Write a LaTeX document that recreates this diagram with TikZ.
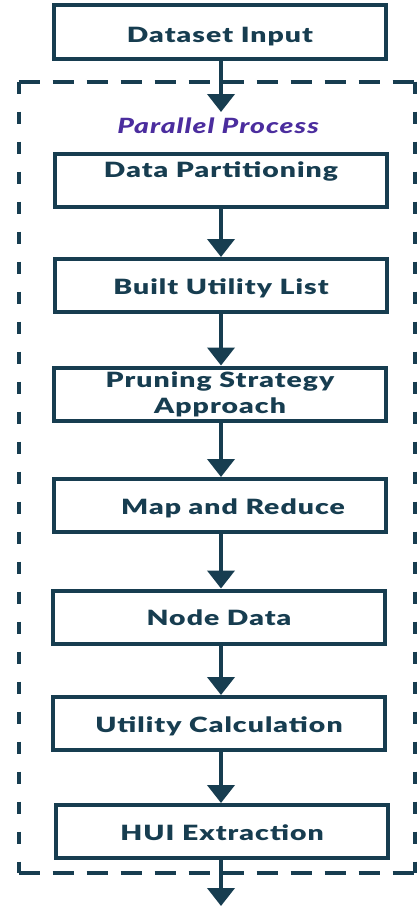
\documentclass[tikz,border=0pt]{standalone}
\usepackage{fontspec}
\setmainfont{Lato}
\newfontfamily\boxfont{Lato Black}[FakeStretch=1.35,LetterSpace=5]
\newfontfamily\boxitfont{Lato Black Italic}[FakeStretch=1.35,LetterSpace=5]
\usepackage{tikz}
\usetikzlibrary{arrows.meta,positioning,calc}
\definecolor{flowteal}{HTML}{173D50}
\definecolor{procpurple}{HTML}{4B2D9E}
\tikzset{
  stepbox/.style={draw=flowteal,line width=4pt,minimum width=332pt,minimum height=53pt,
    inner sep=0pt,text=flowteal,font=\boxfont\fontsize{21}{26}\selectfont,align=center},
  onelinebox/.style={stepbox,text height=19pt,text depth=2pt},
  flowarrow/.style={draw=flowteal,line width=4pt,-{Triangle[width=27pt,length=18pt]}},
  grouphline/.style={draw=flowteal,line width=4pt,dash pattern=on 21pt off 13pt},
  groupvline/.style={draw=flowteal,line width=4pt,dash pattern=on 12pt off 18pt}
}
\begin{document}
\begin{tikzpicture}[x=1pt,y=-1pt]
\useasboundingbox (0,0) rectangle (417,908);
% outer group
\coordinate (gtl) at (18.5,81.5);
\coordinate (gtr) at (415,81.5);
\coordinate (gbl) at (18.5,873);
\coordinate (gbr) at (415,873);
\draw[grouphline] (gtl) -- (gtr);
\draw[grouphline] (gbl) -- (gbr);
\draw[groupvline] (gtl) -- (gbl);
\draw[groupvline] (gtr) -- (gbr);
\node[onelinebox,minimum height=54pt] (input) at (220,32) {\raisebox{-2pt}{Dataset Input}};
\node[text=procpurple,font=\boxitfont\fontsize{21}{24}\selectfont] (par) at (218,126) {Parallel Process};
\node[onelinebox] (part) at (221,180.5) {\raisebox{12pt}{Data Partitioning}};
\node[onelinebox] (ulist) at (221,285.5) {Built Utility List};
\node[stepbox] (prune) at (220,394) {Pruning Strategy\\Approach};
\node[onelinebox] (mapred) at (220,505.5) {\hspace*{26pt}Map and Reduce};
\node[onelinebox] (nodedata) at (219,617) {Node Data};
\node[onelinebox] (ucalc) at (219,723.5) {Utility Calculation};
\node[onelinebox] (hui) at (222,831.5) {HUI Extraction};
\coordinate (out) at (221,906);
% arrows
\draw[flowarrow] (input.south -| 221,0) -- (221,112);
\draw[flowarrow] (part.south -| 221,0) -- (ulist.north -| 221,0);
\draw[flowarrow] (ulist.south -| 221,0) -- (prune.north -| 221,0);
\draw[flowarrow] (prune.south -| 221,0) -- (mapred.north -| 221,0);
\draw[flowarrow] (mapred.south -| 221,0) -- (nodedata.north -| 221,0);
\draw[flowarrow] (nodedata.south -| 221,0) -- (ucalc.north -| 221,0);
\draw[flowarrow] (ucalc.south -| 221,0) -- (hui.north -| 221,0);
\draw[flowarrow] (hui.south -| 221,0) -- (out);
\end{tikzpicture}
\end{document}
